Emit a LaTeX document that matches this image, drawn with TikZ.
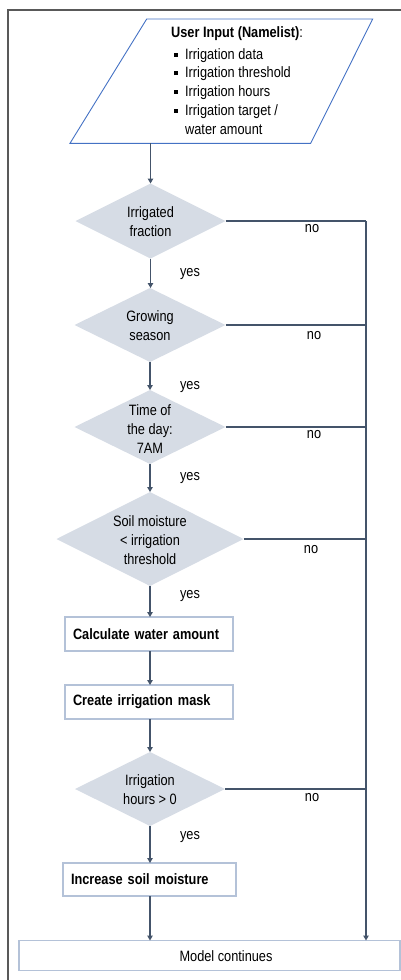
\documentclass[tikz,border=0pt]{standalone}
\usepackage{fontspec}
\setmainfont{Liberation Sans}[FakeStretch=0.85]
\usetikzlibrary{shapes.geometric,arrows.meta}
\definecolor{diafill}{HTML}{D6DCE5}
\definecolor{arrc}{HTML}{44546A}
\definecolor{boxc}{HTML}{B4C2D8}
\definecolor{parac}{HTML}{4472C4}
\definecolor{framec}{HTML}{595959}
\begin{document}
\begin{tikzpicture}[x=1pt,y=-1pt,font=\fontsize{15}{19}\selectfont,
  decision/.style={diamond,fill=diafill,inner sep=0pt,outer sep=0pt,minimum width=150pt,minimum height=75pt},
  procbox/.style={rectangle,draw=boxc,line width=1.2pt,fill=white,minimum height=34pt,inner xsep=8pt,inner ysep=0pt,text width=152pt,align=left,outer sep=0pt,font=\fontsize{15}{19}\selectfont\bfseries},
  flow/.style={draw=arrc,line width=1.1pt,-{Triangle[length=5pt,width=5.5pt]}},
  plainline/.style={draw=arrc,line width=1.1pt},
  lbl/.style={inner sep=0pt},
  ptxt/.style={inner sep=0pt,anchor=base west}]
\useasboundingbox (0,0) rectangle (401,980);
% frame
\draw[framec,line width=1.6pt] (8,980) -- (8,10) -- (401,10);
% input parallelogram
\draw[parac,line width=0.9pt] (146.7,19) -- (372.7,19) -- (310.7,143.3) -- (70,143.3) -- cycle;
\coordinate (inpout) at (150.5,143.3);
\node[ptxt] (t0) at (171,37) {\textbf{User Input (Namelist)}:};
\node[ptxt] (t1) at (173.5,59) {\makebox[11.5pt][l]{\rule[2.5pt]{4pt}{4pt}}Irrigation data};
\node[ptxt] (t2) at (173.5,77.5) {\makebox[11.5pt][l]{\rule[2.5pt]{4pt}{4pt}}Irrigation threshold};
\node[ptxt] (t3) at (173.5,96) {\makebox[11.5pt][l]{\rule[2.5pt]{4pt}{4pt}}Irrigation hours};
\node[ptxt] (t4) at (173.5,115) {\makebox[11.5pt][l]{\rule[2.5pt]{4pt}{4pt}}Irrigation target /};
\node[ptxt] (t5) at (185,134) {water amount};
% decisions
\node[decision] (d1) at (150.5,221) {};
\node[align=center,lbl] (d1t) at (150.5,222) {Irrigated\\fraction};
\node[decision,minimum width=151pt,minimum height=74pt] (d2) at (150,325) {};
\node[align=center,lbl] (d2t) at (150,326) {Growing\\season};
\node[decision,minimum width=151pt,minimum height=74pt] (d3) at (150,427) {};
\node[align=center,lbl] (d3t) at (150,429) {Time of\\the day:\\7AM};
\node[decision,minimum width=187pt,minimum height=94pt] (d4) at (150,539) {};
\node[align=center,lbl] (d4t) at (150,540) {Soil moisture\\\textless{} irrigation\\threshold};
\node[procbox] (b1) at (149,634) {Calculate water amount};
\node[procbox] (b2) at (149,702) {Create irrigation mask};
\node[decision,minimum width=150pt,minimum height=74pt] (d5) at (150,789) {};
\node[align=center,lbl] (d5t) at (150,790) {Irrigation\\hours \textgreater{} 0};
\node[procbox,text width=157pt,minimum height=33pt] (b3) at (149.5,879.5) {Increase soil moisture};
\node[rectangle,draw=boxc,line width=1.2pt,fill=white,minimum width=381pt,minimum height=30pt,inner sep=0pt,outer sep=0pt] (mc) at (209.5,955.5) {};
\node[lbl] (mct) at (226,956) {Model continues};
% yes arrows
\draw[flow] (inpout) -- (inpout |- d1.north);
\draw[flow] (d1.south) -- (d1.south |- d2.north);
\draw[flow] (d2.south) -- (d3.north);
\draw[flow] (d3.south) -- (d4.north);
\draw[flow] (d4.south) -- (d4.south |- b1.north);
\draw[flow] (d4.south |- b1.south) -- (d4.south |- b2.north);
\draw[flow] (d4.south |- b2.south) -- (d5.north);
\draw[flow] (d5.south) -- (d5.south |- b3.north);
\draw[flow] (d5.south |- b3.south) -- (d5.south |- mc.north);
% no lines
\coordinate (r1) at (366,221);
\draw[plainline] (d1.east) -- (r1);
\draw[plainline] (d2.east) -- (d2.east -| r1);
\draw[plainline] (d3.east) -- (d3.east -| r1);
\draw[plainline] (d4.east) -- (d4.east -| r1);
\draw[plainline] (d5.east) -- (d5.east -| r1);
\draw[flow] (r1) -- (r1 |- mc.north);
% labels
\node[lbl] (n1) at (312,229) {no};
\node[lbl] (n2) at (314,336) {no};
\node[lbl] (n3) at (314,435) {no};
\node[lbl] (n4) at (311,550) {no};
\node[lbl] (n5) at (312,798) {no};
\node[lbl] (y1) at (190,274) {yes};
\node[lbl] (y2) at (190,387) {yes};
\node[lbl] (y3) at (190,478) {yes};
\node[lbl] (y4) at (190,596) {yes};
\node[lbl] (y5) at (190,837) {yes};
\end{tikzpicture}
\end{document}
